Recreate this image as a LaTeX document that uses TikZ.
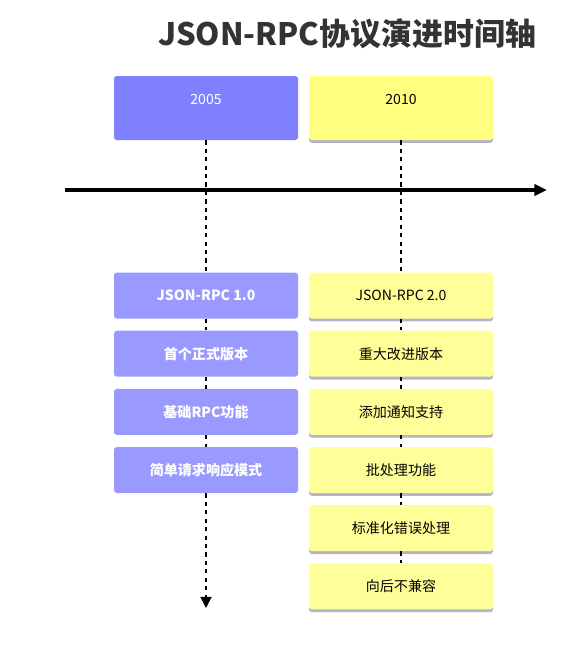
\documentclass[tikz,border=0pt]{standalone}
\usepackage{fontspec}
\setmainfont{Noto Sans CJK SC}
\usepackage{xcolor}
\usetikzlibrary{positioning, shadows, arrows.meta}
\definecolor{hdblue}{HTML}{8080FF}
\definecolor{evblue}{HTML}{9999FF}
\definecolor{hdyellow}{HTML}{FFFF80}
\definecolor{evyellow}{HTML}{FFFF99}
\definecolor{titlegray}{HTML}{333333}
\definecolor{edgegray}{HTML}{B4B4C8}
\tikzstyle{axis} = [line width=2.2pt,-{Triangle[length=9pt,width=8pt]}]
\tikzstyle{track} = [line width=1.1pt, dash pattern=on 3pt off 3pt]
\tikzstyle{yearbox} = [rectangle, rounded corners=2pt, minimum width=4.6cm, minimum height=1.6cm, text height=0.25cm, text depth=0.45cm, text centered, font=\fontsize{10}{12}\selectfont]
\tikzstyle{eventbox} = [rectangle, rounded corners=2pt, minimum width=4.6cm, minimum height=1.15cm, text centered, font=\fontsize{10}{12}\selectfont]
\tikzstyle{bluebox} = [fill=evblue, text=white, font=\fontsize{10}{12}\selectfont\bfseries]
\tikzstyle{yellowbox} = [fill=evyellow, text=black, drop shadow={shadow xshift=0pt, shadow yshift=-2pt, fill=edgegray, opacity=1}]

\begin{document}
\begin{tikzpicture}
    \useasboundingbox (0,0) rectangle (14.375,-16.25);
    % Title
    \node[text=titlegray, font=\fontsize{22}{26}\selectfont\bfseries] (title) at (8.675,-0.85) {JSON-RPC协议演进时间轴};

    % Years
    \node[yearbox, fill=hdblue, text=white] (y05) at (5.15,-2.7) {2005};
    \node[yearbox, yellowbox, fill=hdyellow] (y10) at (10.025,-2.7) {2010};

    % Axis
    \coordinate (axL) at (1.625,-4.75);
    \coordinate (axR) at (13.675,-4.75);
    \draw[axis] (axL) -- (axR);

    % 2005 events
    \node[eventbox, bluebox, below=3.3cm of y05] (v1) {JSON-RPC 1.0};
    \node[eventbox, bluebox, below=0.29cm of v1] (v2) {首个正式版本};
    \node[eventbox, bluebox, below=0.29cm of v2] (v3) {基础RPC功能};
    \node[eventbox, bluebox, below=0.29cm of v3] (v4) {简单请求响应模式};
    \coordinate (end05) at (5.15,-15.2);

    % 2010 events
    \node[eventbox, yellowbox, below=3.3cm of y10] (w1) {JSON-RPC 2.0};
    \node[eventbox, yellowbox, below=0.29cm of w1] (w2) {重大改进版本};
    \node[eventbox, yellowbox, below=0.29cm of w2] (w3) {添加通知支持};
    \node[eventbox, yellowbox, below=0.29cm of w3] (w4) {批处理功能};
    \node[eventbox, yellowbox, below=0.29cm of w4] (w5) {标准化错误处理};
    \node[eventbox, yellowbox, below=0.29cm of w5] (w6) {向后不兼容};

    % Tracks
    \draw[track] (y05) -- (v1);
    \draw[track] (v1) -- (v2);
    \draw[track] (v2) -- (v3);
    \draw[track] (v3) -- (v4);
    \draw[track, -{Triangle[length=8pt,width=8pt]}] (v4) -- (end05);
    \draw[track] (y10) -- (w1);
    \draw[track] (w1) -- (w2);
    \draw[track] (w2) -- (w3);
    \draw[track] (w3) -- (w4);
    \draw[track] (w4) -- (w5);
    \draw[track] (w5) -- (w6);
\end{tikzpicture}
\end{document}
